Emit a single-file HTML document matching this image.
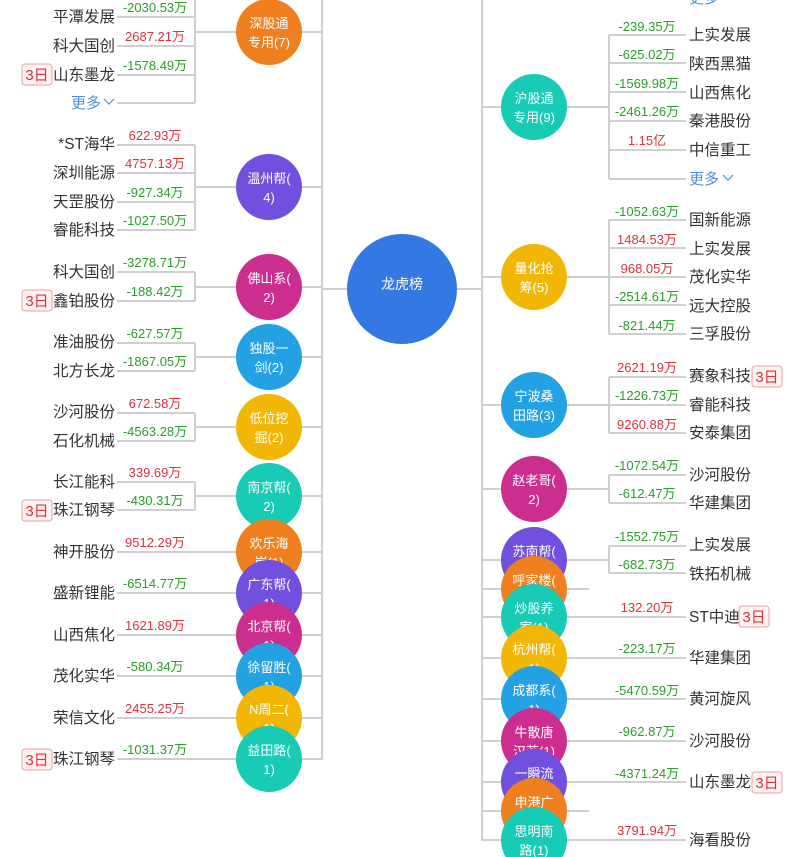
<!DOCTYPE html>
<html><head><meta charset="utf-8">
<style>
html,body{margin:0;padding:0;background:#fff;}
svg{display:block;}
text{font-family:"Liberation Sans","Noto Sans CJK SC",sans-serif;}
.n{font-size:15.5px;fill:#333;}
.nl{text-anchor:end;}
.v{font-size:13px;text-anchor:middle;}
.g{fill:#2a9d2a;}
.r{fill:#e0303a;}
.c{font-size:13px;fill:#fff;text-anchor:middle;}
.m{font-size:15px;fill:#4a90e2;}
.b{font-size:15px;fill:#e0303a;text-anchor:middle;}
line,polyline{stroke:#cfcfcf;stroke-width:2;fill:none;}
</style></head>
<body>
<svg width="797" height="857" viewBox="0 0 797 857" xmlns="http://www.w3.org/2000/svg">
<line x1="322" y1="0" x2="322" y2="760"/>
<line x1="482" y1="0" x2="482" y2="841"/>
<line x1="322" y1="289" x2="482" y2="289"/>
<text class="m" x="689" y="3">更多</text>

<line x1="195" y1="0" x2="195" y2="103"/>
<line x1="117" y1="17" x2="195" y2="17"/>
<line x1="117" y1="46" x2="195" y2="46"/>
<line x1="117" y1="75" x2="195" y2="75"/>
<line x1="117" y1="103" x2="195" y2="103"/>
<line x1="195" y1="32" x2="322" y2="32"/>
<text class="n nl" x="115" y="22">平潭发展</text><text class="v g" x="155" y="12">-2030.53万</text>
<text class="n nl" x="115" y="51">科大国创</text><text class="v r" x="155" y="41">2687.21万</text>
<text class="n nl" x="115" y="80">山东墨龙</text><text class="v g" x="155" y="70">-1578.49万</text>
<text class="m" x="71" y="108">更多</text><polyline points="104,99 109,104 114,99" style="stroke:#4a90e2;stroke-width:1.2"/>

<line x1="195" y1="145" x2="195" y2="230"/>
<line x1="117" y1="145" x2="195" y2="145"/>
<line x1="117" y1="173" x2="195" y2="173"/>
<line x1="117" y1="202" x2="195" y2="202"/>
<line x1="117" y1="230" x2="195" y2="230"/>
<line x1="195" y1="187" x2="322" y2="187"/>
<text class="n nl" x="115" y="149">*ST海华</text><text class="v r" x="155" y="140">622.93万</text>
<text class="n nl" x="115" y="178">深圳能源</text><text class="v r" x="155" y="168">4757.13万</text>
<text class="n nl" x="115" y="207">天罡股份</text><text class="v g" x="155" y="197">-927.34万</text>
<text class="n nl" x="115" y="235">睿能科技</text><text class="v g" x="155" y="225">-1027.50万</text>

<line x1="195" y1="272" x2="195" y2="301"/>
<line x1="117" y1="272" x2="195" y2="272"/>
<line x1="117" y1="301" x2="195" y2="301"/>
<line x1="195" y1="287" x2="322" y2="287"/>
<text class="n nl" x="115" y="277">科大国创</text><text class="v g" x="155" y="267">-3278.71万</text>
<text class="n nl" x="115" y="306">鑫铂股份</text><text class="v g" x="155" y="296">-188.42万</text>

<line x1="195" y1="343" x2="195" y2="371"/>
<line x1="117" y1="343" x2="195" y2="343"/>
<line x1="117" y1="371" x2="195" y2="371"/>
<line x1="195" y1="357" x2="322" y2="357"/>
<text class="n nl" x="115" y="347">准油股份</text><text class="v g" x="155" y="338">-627.57万</text>
<text class="n nl" x="115" y="376">北方长龙</text><text class="v g" x="155" y="366">-1867.05万</text>

<line x1="195" y1="413" x2="195" y2="441"/>
<line x1="117" y1="413" x2="195" y2="413"/>
<line x1="117" y1="441" x2="195" y2="441"/>
<line x1="195" y1="427" x2="322" y2="427"/>
<text class="n nl" x="115" y="417">沙河股份</text><text class="v r" x="155" y="408">672.58万</text>
<text class="n nl" x="115" y="446">石化机械</text><text class="v g" x="155" y="436">-4563.28万</text>

<line x1="195" y1="482" x2="195" y2="510"/>
<line x1="117" y1="482" x2="195" y2="482"/>
<line x1="117" y1="510" x2="195" y2="510"/>
<line x1="195" y1="496" x2="322" y2="496"/>
<text class="n nl" x="115" y="487">长江能科</text><text class="v r" x="155" y="477">339.69万</text>
<text class="n nl" x="115" y="515">珠江钢琴</text><text class="v g" x="155" y="505">-430.31万</text>

<line x1="117" y1="552" x2="322" y2="552"/>
<text class="n nl" x="115" y="557">神开股份</text><text class="v r" x="155" y="547">9512.29万</text>
<line x1="117" y1="593" x2="322" y2="593"/>
<text class="n nl" x="115" y="598">盛新锂能</text><text class="v g" x="155" y="588">-6514.77万</text>
<line x1="117" y1="635" x2="322" y2="635"/>
<text class="n nl" x="115" y="640">山西焦化</text><text class="v r" x="155" y="630">1621.89万</text>
<line x1="117" y1="676" x2="322" y2="676"/>
<text class="n nl" x="115" y="681">茂化实华</text><text class="v g" x="155" y="671">-580.34万</text>
<line x1="117" y1="718" x2="322" y2="718"/>
<text class="n nl" x="115" y="723">荣信文化</text><text class="v r" x="155" y="713">2455.25万</text>
<line x1="117" y1="759" x2="322" y2="759"/>
<text class="n nl" x="115" y="764">珠江钢琴</text><text class="v g" x="155" y="754">-1031.37万</text>

<g>
<rect x="22" y="64" width="30" height="21" rx="3" fill="#fff2f2" stroke="#eaa0a0"/><text class="b" x="37" y="80">3日</text>
<rect x="22" y="290" width="30" height="21" rx="3" fill="#fff2f2" stroke="#eaa0a0"/><text class="b" x="37" y="306">3日</text>
<rect x="22" y="500" width="30" height="21" rx="3" fill="#fff2f2" stroke="#eaa0a0"/><text class="b" x="37" y="516">3日</text>
<rect x="22" y="749" width="30" height="21" rx="3" fill="#fff2f2" stroke="#eaa0a0"/><text class="b" x="37" y="765">3日</text>
</g>

<circle cx="269" cy="32" r="33" fill="#f07f1f"/><text class="c" x="269" y="28">深股通</text><text class="c" x="269" y="47">专用(7)</text>
<circle cx="269" cy="187" r="33" fill="#7150e0"/><text class="c" x="269" y="183">温州帮(</text><text class="c" x="269" y="202">4)</text>
<circle cx="269" cy="287" r="33" fill="#cc2e8f"/><text class="c" x="269" y="283">佛山系(</text><text class="c" x="269" y="302">2)</text>
<circle cx="269" cy="357" r="33" fill="#24a1e3"/><text class="c" x="269" y="353">独股一</text><text class="c" x="269" y="372">剑(2)</text>
<circle cx="269" cy="427" r="33" fill="#f2b705"/><text class="c" x="269" y="423">低位挖</text><text class="c" x="269" y="442">掘(2)</text>
<circle cx="269" cy="496" r="33" fill="#17cbb4"/><text class="c" x="269" y="492">南京帮(</text><text class="c" x="269" y="511">2)</text>
<circle cx="269" cy="552" r="33" fill="#f07f1f"/><text class="c" x="269" y="548">欢乐海</text><text class="c" x="269" y="567">岸(1)</text>
<circle cx="269" cy="593" r="33" fill="#7150e0"/><text class="c" x="269" y="589">广东帮(</text><text class="c" x="269" y="608">1)</text>
<circle cx="269" cy="635" r="33" fill="#cc2e8f"/><text class="c" x="269" y="631">北京帮(</text><text class="c" x="269" y="650">1)</text>
<circle cx="269" cy="676" r="33" fill="#24a1e3"/><text class="c" x="269" y="672">徐留胜(</text><text class="c" x="269" y="691">1)</text>
<circle cx="269" cy="718" r="33" fill="#f2b705"/><text class="c" x="269" y="714">N周二(</text><text class="c" x="269" y="733">1)</text>
<circle cx="269" cy="759" r="33" fill="#17cbb4"/><text class="c" x="269" y="755">益田路(</text><text class="c" x="269" y="774">1)</text>

<circle cx="402" cy="289" r="55" fill="#3478e3"/><text class="c" x="402" y="289" style="font-size:14px">龙虎榜</text>

<line x1="609" y1="35" x2="609" y2="179"/>
<line x1="609" y1="35" x2="686" y2="35"/>
<line x1="609" y1="63" x2="686" y2="63"/>
<line x1="609" y1="92" x2="686" y2="92"/>
<line x1="609" y1="121" x2="686" y2="121"/>
<line x1="609" y1="150" x2="686" y2="150"/>
<line x1="609" y1="179" x2="686" y2="179"/>
<line x1="482" y1="107" x2="609" y2="107"/>
<text class="n" x="689" y="40">上实发展</text><text class="v g" x="647" y="31">-239.35万</text>
<text class="n" x="689" y="69">陕西黑猫</text><text class="v g" x="647" y="59">-625.02万</text>
<text class="n" x="689" y="98">山西焦化</text><text class="v g" x="647" y="88">-1569.98万</text>
<text class="n" x="689" y="126">秦港股份</text><text class="v g" x="647" y="116">-2461.26万</text>
<text class="n" x="689" y="155">中信重工</text><text class="v r" x="647" y="145">1.15亿</text>
<text class="m" x="689" y="184">更多</text><polyline points="723,175 728,180 733,175" style="stroke:#4a90e2;stroke-width:1.2"/>

<line x1="609" y1="220" x2="609" y2="334"/>
<line x1="609" y1="220" x2="686" y2="220"/>
<line x1="609" y1="248" x2="686" y2="248"/>
<line x1="609" y1="277" x2="686" y2="277"/>
<line x1="609" y1="305" x2="686" y2="305"/>
<line x1="609" y1="334" x2="686" y2="334"/>
<line x1="482" y1="277" x2="609" y2="277"/>
<text class="n" x="689" y="225">国新能源</text><text class="v g" x="647" y="216">-1052.63万</text>
<text class="n" x="689" y="254">上实发展</text><text class="v r" x="647" y="244">1484.53万</text>
<text class="n" x="689" y="282">茂化实华</text><text class="v r" x="647" y="273">968.05万</text>
<text class="n" x="689" y="311">远大控股</text><text class="v g" x="647" y="301">-2514.61万</text>
<text class="n" x="689" y="339">三孚股份</text><text class="v g" x="647" y="330">-821.44万</text>

<line x1="609" y1="377" x2="609" y2="433"/>
<line x1="609" y1="377" x2="686" y2="377"/>
<line x1="609" y1="405" x2="686" y2="405"/>
<line x1="609" y1="433" x2="686" y2="433"/>
<line x1="482" y1="405" x2="609" y2="405"/>
<text class="n" x="689" y="381">赛象科技</text><text class="v r" x="647" y="372">2621.19万</text>
<text class="n" x="689" y="410">睿能科技</text><text class="v g" x="647" y="400">-1226.73万</text>
<text class="n" x="689" y="438">安泰集团</text><text class="v r" x="647" y="429">9260.88万</text>

<line x1="609" y1="475" x2="609" y2="503"/>
<line x1="609" y1="475" x2="686" y2="475"/>
<line x1="609" y1="503" x2="686" y2="503"/>
<line x1="482" y1="489" x2="609" y2="489"/>
<text class="n" x="689" y="480">沙河股份</text><text class="v g" x="647" y="470">-1072.54万</text>
<text class="n" x="689" y="508">华建集团</text><text class="v g" x="647" y="498">-612.47万</text>

<line x1="609" y1="546" x2="609" y2="573"/>
<line x1="609" y1="546" x2="686" y2="546"/>
<line x1="609" y1="573" x2="686" y2="573"/>
<line x1="482" y1="560" x2="609" y2="560"/>
<text class="n" x="689" y="550">上实发展</text><text class="v g" x="647" y="541">-1552.75万</text>
<text class="n" x="689" y="579">铁拓机械</text><text class="v g" x="647" y="569">-682.73万</text>

<line x1="482" y1="589" x2="589" y2="589"/>
<line x1="482" y1="617" x2="686" y2="617"/>
<text class="n" x="689" y="622">ST中迪</text><text class="v r" x="647" y="612">132.20万</text>
<line x1="482" y1="658" x2="686" y2="658"/>
<text class="n" x="689" y="663">华建集团</text><text class="v g" x="647" y="653">-223.17万</text>
<line x1="482" y1="699" x2="686" y2="699"/>
<text class="n" x="689" y="704">黄河旋风</text><text class="v g" x="647" y="695">-5470.59万</text>
<line x1="482" y1="741" x2="686" y2="741"/>
<text class="n" x="689" y="746">沙河股份</text><text class="v g" x="647" y="736">-962.87万</text>
<line x1="482" y1="782" x2="686" y2="782"/>
<text class="n" x="689" y="787">山东墨龙</text><text class="v g" x="647" y="778">-4371.24万</text>
<line x1="482" y1="811" x2="589" y2="811"/>
<line x1="482" y1="840" x2="686" y2="840"/>
<text class="n" x="689" y="845">海看股份</text><text class="v r" x="647" y="835">3791.94万</text>

<rect x="752" y="366" width="30" height="21" rx="3" fill="#fff2f2" stroke="#eaa0a0"/><text class="b" x="767" y="382">3日</text>
<rect x="739" y="606" width="30" height="21" rx="3" fill="#fff2f2" stroke="#eaa0a0"/><text class="b" x="754" y="622">3日</text>
<rect x="752" y="772" width="30" height="21" rx="3" fill="#fff2f2" stroke="#eaa0a0"/><text class="b" x="767" y="788">3日</text>

<circle cx="534" cy="107" r="33" fill="#17cbb4"/><text class="c" x="534" y="103">沪股通</text><text class="c" x="534" y="122">专用(9)</text>
<circle cx="534" cy="277" r="33" fill="#f2b705"/><text class="c" x="534" y="273">量化抢</text><text class="c" x="534" y="292">筹(5)</text>
<circle cx="534" cy="405" r="33" fill="#24a1e3"/><text class="c" x="534" y="401">宁波桑</text><text class="c" x="534" y="420">田路(3)</text>
<circle cx="534" cy="489" r="33" fill="#cc2e8f"/><text class="c" x="534" y="485">赵老哥(</text><text class="c" x="534" y="504">2)</text>
<circle cx="534" cy="560" r="33" fill="#7150e0"/><text class="c" x="534" y="556">苏南帮(</text><text class="c" x="534" y="575">1)</text>
<circle cx="534" cy="589" r="33" fill="#f07f1f"/><text class="c" x="534" y="585">呼家楼(</text><text class="c" x="534" y="604">1)</text>
<circle cx="534" cy="617" r="33" fill="#17cbb4"/><text class="c" x="534" y="613">炒股养</text><text class="c" x="534" y="632">家(1)</text>
<circle cx="534" cy="658" r="33" fill="#f2b705"/><text class="c" x="534" y="654">杭州帮(</text><text class="c" x="534" y="673">1)</text>
<circle cx="534" cy="699" r="33" fill="#24a1e3"/><text class="c" x="534" y="695">成都系(</text><text class="c" x="534" y="714">1)</text>
<circle cx="534" cy="741" r="33" fill="#cc2e8f"/><text class="c" x="534" y="737">牛散唐</text><text class="c" x="534" y="756">汉若(1)</text>
<circle cx="534" cy="782" r="33" fill="#7150e0"/><text class="c" x="534" y="778">一瞬流</text><text class="c" x="534" y="797">(1)</text>
<circle cx="534" cy="811" r="33" fill="#f07f1f"/><text class="c" x="534" y="807">申港广</text><text class="c" x="534" y="826">场(1)</text>
<circle cx="534" cy="840" r="33" fill="#17cbb4"/><text class="c" x="534" y="836">思明南</text><text class="c" x="534" y="855">路(1)</text>
</svg>
</body></html>
